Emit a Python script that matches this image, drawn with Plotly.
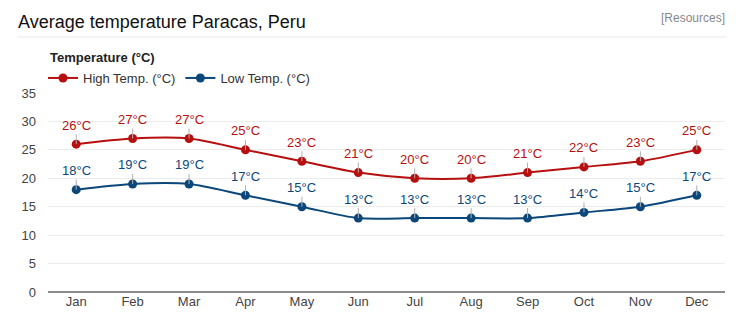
import plotly.graph_objects as go

months = ["Jan", "Feb", "Mar", "Apr", "May", "Jun", "Jul", "Aug", "Sep", "Oct", "Nov", "Dec"]
high_temp = [26, 27, 27, 25, 23, 21, 20, 20, 21, 22, 23, 25]
low_temp = [18, 19, 19, 17, 15, 13, 13, 13, 13, 14, 15, 17]
y_ticks = [0, 5, 10, 15, 20, 25, 30, 35]

RED = "#b70f0f"
BLUE = "#0b477a"
FONT = "Arial, Liberation Sans, sans-serif"

W, H = 738, 331
L, R, T, B = 48, 13, 93, 39
PW = W - L - R
PH = H - T - B

def px_x(p):
    return (p - L) / PW

def px_y(p):
    return (H - B - p) / PH

fig = go.Figure()
fig.add_trace(go.Scatter(x=months, y=high_temp, name="High Temp. (°C)", mode="lines+markers",
                         line=dict(color=RED, width=2, shape="spline", smoothing=0.8),
                         marker=dict(color=RED, size=9)))
fig.add_trace(go.Scatter(x=months, y=low_temp, name="Low Temp. (°C)", mode="lines+markers",
                         line=dict(color=BLUE, width=2, shape="spline", smoothing=0.8),
                         marker=dict(color=BLUE, size=9)))

annotations = []
for series, color in ((high_temp, RED), (low_temp, BLUE)):
    for m, v in zip(months, series):
        annotations.append(dict(x=m, y=v, xref="x", yref="y", text=f"{v}°C",
                                showarrow=True, arrowhead=0, arrowwidth=1, arrowcolor="#b0b0b0",
                                ax=0, ay=-19, font=dict(size=13, color=color, family=FONT)))

annotations.append(dict(x=px_x(48), y=px_y(57), xref="paper", yref="paper", xanchor="left", yanchor="middle",
                        text="<b>Temperature (°C)</b>", showarrow=False,
                        font=dict(size=13, color="#222", family=FONT)))
annotations.append(dict(x=px_x(727), y=px_y(18), xref="paper", yref="paper", xanchor="right", yanchor="middle",
                        text="[Resources]", showarrow=False,
                        font=dict(size=12, color="#888", family=FONT)))

fig.update_layout(
    width=W, height=H,
    margin=dict(l=L, r=R, t=T, b=B),
    paper_bgcolor="white", plot_bgcolor="white",
    font=dict(family=FONT, size=13, color="#444"),
    title=dict(text="Average temperature Paracas, Peru", x=18 / W, xanchor="left", xref="container",
               y=1 - 22 / H, yanchor="middle", yref="container",
               font=dict(size=18, color="#111", family=FONT)),
    showlegend=True,
    legend=dict(orientation="h", x=px_x(43), y=px_y(78), xanchor="left", yanchor="middle",
                font=dict(size=13, color="#333", family=FONT), bgcolor="rgba(0,0,0,0)",
                itemwidth=30, tracegroupgap=0),
    xaxis=dict(range=[-0.5, 11.5], showgrid=False, showline=False, ticks="", zeroline=False,
               tickfont=dict(size=13, color="#444"), fixedrange=True),
    yaxis=dict(range=[0, 35], tickvals=y_ticks, showgrid=True, gridcolor="#ececec", gridwidth=1,
               zeroline=True, zerolinecolor="#8c8c8c", zerolinewidth=2,
               ticks="", tickfont=dict(size=13, color="#444"), ticklabelstandoff=11),
    annotations=annotations,
    shapes=[dict(type="line", xref="paper", yref="paper", x0=px_x(18), x1=px_x(726),
                 y0=px_y(37), y1=px_y(37), line=dict(color="#e8e8e8", width=1))],
)

fig.write_html("out.html")
